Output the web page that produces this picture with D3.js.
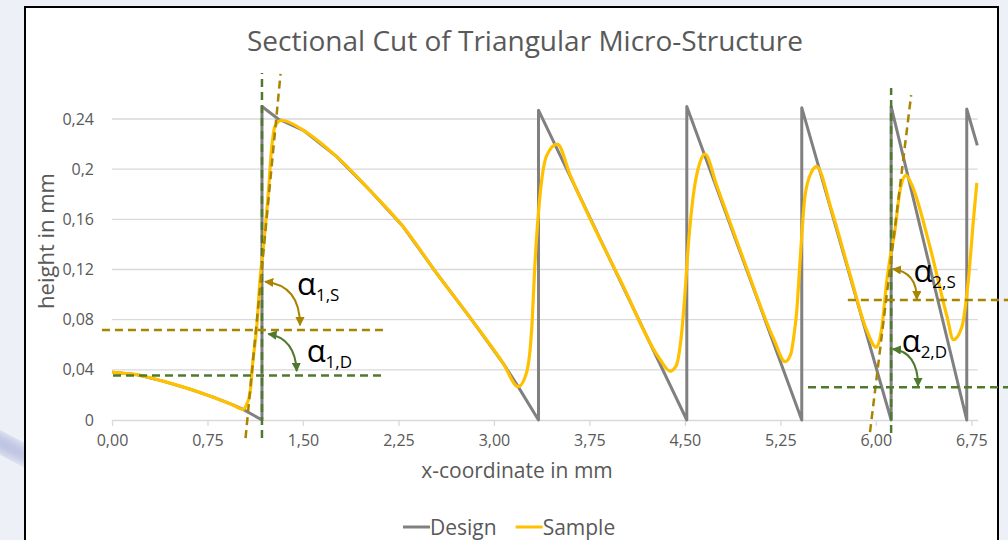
<!DOCTYPE html>
<html>
<head>
<meta charset="utf-8">
<script src="https://cdn.jsdelivr.net/npm/d3@7/dist/d3.min.js"></script>
<style>
  body { margin: 0; overflow: hidden; background: #edf0f7; }
  text { font-family: "Open Sans", sans-serif; }
</style>
</head>
<body>
<div id="chart"></div>
<script>
// data (x in mm, height in mm)
const designX = [0, 0.2, 0.4, 0.6, 0.8, 0.95, 1.03, 1.178, 1.178, 1.306, 1.503, 1.765, 2.027, 2.288, 2.55, 2.81, 3.074, 3.19, 3.35,
                 3.35, 4.515, 4.515, 5.418, 5.418, 6.12, 6.12, 6.714, 6.714, 6.797];
const designY = [0.038, 0.036, 0.031, 0.025, 0.018, 0.012, 0.0085, 0, 0.25, 0.240, 0.231, 0.210, 0.183, 0.154, 0.117, 0.082, 0.045, 0.0266, 0,
                 0.247, 0, 0.25, 0, 0.249, 0, 0.25, 0, 0.248, 0.219];

const sampleX = [0, 0.2, 0.4, 0.6, 0.8, 0.95, 1.03, 1.06, 1.084, 1.108, 1.137, 1.163, 1.189, 1.228, 1.255, 1.28, 1.333,
                 1.503, 1.765, 2.027, 2.288, 2.55, 2.81, 3.074, 3.19,
                 3.257, 3.297, 3.323, 3.362, 3.415, 3.498, 3.6, 4.0, 4.3, 4.383,
                 4.43, 4.47, 4.50, 4.527, 4.566, 4.62, 4.658, 4.75, 4.95, 5.2, 5.287,
                 5.33, 5.36, 5.378, 5.404, 5.444, 5.496, 5.535, 5.65, 5.8, 5.93, 6.003,
                 6.046, 6.085, 6.11, 6.15, 6.19, 6.237, 6.28, 6.42, 6.56, 6.609,
                 6.675, 6.727, 6.766, 6.793];
const sampleY = [0.038, 0.036, 0.031, 0.025, 0.018, 0.012, 0.0085, 0.013, 0.0215, 0.048, 0.074, 0.112, 0.138, 0.181, 0.218, 0.234, 0.239,
                 0.231, 0.210, 0.183, 0.154, 0.117, 0.082, 0.045, 0.0266,
                 0.038, 0.073, 0.126, 0.179, 0.211, 0.220, 0.195, 0.110, 0.049, 0.039,
                 0.043, 0.065, 0.0997, 0.1395, 0.179, 0.206, 0.212, 0.187, 0.131, 0.064, 0.0465,
                 0.052, 0.070, 0.086, 0.126, 0.179, 0.198, 0.202, 0.168, 0.115, 0.071, 0.058,
                 0.073, 0.110, 0.128, 0.1515, 0.183, 0.195, 0.188, 0.140, 0.082, 0.064,
                 0.074, 0.112, 0.159, 0.189];

const seriesNames = ["Design", "Sample"];
const xTicks = [0, 0.75, 1.5, 2.25, 3, 3.75, 4.5, 5.25, 6, 6.75];
const xTickLabels = ["0,00", "0,75", "1,50", "2,25", "3,00", "3,75", "4,50", "5,25", "6,00", "6,75"];
const yTicks = [0, 0.04, 0.08, 0.12, 0.16, 0.2, 0.24];
const yTickLabels = ["0", "0,04", "0,08", "0,12", "0,16", "0,2", "0,24"];

// angle construction lines (data units)
const verticals = [[1.178, -0.0144, 1.178, 0.2767], [6.12, -0.0104, 6.12, 0.2647]];
const slants = [[1.049, -0.0144, 1.324, 0.276], [5.954, -0.0096, 6.277, 0.259]];
const horizS = [[-0.079, 0.0718, 2.129, 0.0718], [5.78, 0.0957, 7.1, 0.0957]];
const horizD = [[0.008, 0.0355, 2.129, 0.0355], [5.467, 0.0261, 7.1, 0.0261]];
const arcsS = [[1.2019, 0.1103, 1.4768, 0.1076, 1.4768, 0.0755], [6.1327, 0.1204, 6.3236, 0.1180, 6.3213, 0.0962]];
const arcsD = [[1.2278, 0.0686, 1.4376, 0.0654, 1.4509, 0.0390], [6.1327, 0.0566, 6.3315, 0.0542, 6.3315, 0.0270]];
const angleLabels = [
  {x: 1.453, y: 0.0997, sub: "1,S"}, {x: 1.529, y: 0.0465, sub: "1,D"},
  {x: 6.295, y: 0.1103, sub: "2,S"}, {x: 6.203, y: 0.0545, sub: "2,D"}
];

const W = 1008, H = 540;
const plotL = 112, plotR = 977.7, plotT = 119, plotB = 420; // plot frame

const svg = d3.select("#chart").append("svg")
  .attr("width", W).attr("height", H);

// backdrop
const defs = svg.append("defs");
defs.append("filter").attr("id", "blur").append("feGaussianBlur").attr("stdDeviation", 6);
svg.append("rect").attr("width", W).attr("height", H).attr("fill", "#edf0f7");
svg.append("ellipse").attr("cx", 5).attr("cy", 445).attr("rx", 45).attr("ry", 9)
  .attr("transform", "rotate(28,5,445)").attr("fill", "#b9c0e0").attr("filter", "url(#blur)");

// chart box
svg.append("rect").attr("x", 25).attr("y", 7).attr("width", 973).attr("height", 560)
  .attr("fill", "#ffffff").attr("stroke", "#000").attr("stroke-width", 2);

const x = d3.scaleLinear().domain([0, 6.8]).range([plotL, plotR]);
const y = d3.scaleLinear().domain([0, 0.24]).range([plotB, plotT]);

// gridlines
svg.append("g").selectAll("line").data(yTicks.slice(1)).join("line")
  .attr("x1", plotL).attr("x2", plotR)
  .attr("y1", d => y(d)).attr("y2", d => y(d))
  .attr("stroke", "#d9d9d9").attr("stroke-width", 1.3);

// x axis
const xAxis = svg.append("g").attr("transform", `translate(0,${y(0)})`)
  .call(d3.axisBottom(x).tickValues(xTicks).tickSize(6).tickSizeOuter(0)
    .tickFormat((d, i) => xTickLabels[i]));
xAxis.select(".domain").attr("stroke", "#d9d9d9").attr("stroke-width", 1.3);
xAxis.selectAll(".tick line").attr("stroke", "#d9d9d9").attr("stroke-width", 1.3);
xAxis.selectAll(".tick text").attr("fill", "#595959").attr("font-size", 16)
  .attr("font-family", "Open Sans").attr("dy", "1.05em");

// y axis (labels only)
const yAxis = svg.append("g").attr("transform", `translate(${plotL - 2},0)`)
  .call(d3.axisLeft(y).tickValues(yTicks).tickSize(0)
    .tickFormat((d, i) => yTickLabels[i]).tickPadding(16));
yAxis.select(".domain").remove();
yAxis.selectAll(".tick text").attr("fill", "#595959").attr("font-size", 16)
  .attr("font-family", "Open Sans");

// titles
svg.append("text").attr("x", 525).attr("y", 51).attr("text-anchor", "middle")
  .attr("font-size", 28).attr("fill", "#595959").text("Sectional Cut of Triangular Micro-Structure");
svg.append("text").attr("x", 517).attr("y", 478).attr("text-anchor", "middle")
  .attr("font-size", 21).attr("fill", "#595959").text("x-coordinate in mm");
svg.append("text").attr("transform", "translate(54,241) rotate(-90)").attr("text-anchor", "middle")
  .attr("font-size", 22).attr("fill", "#595959").text("height in mm");

// series
const design = designX.map((d, i) => [d, designY[i]]);
const sample = sampleX.map((d, i) => [d, sampleY[i]]);

svg.append("path").datum(design)
  .attr("d", d3.line().x(d => x(d[0])).y(d => y(d[1])))
  .attr("fill", "none").attr("stroke", "#808080").attr("stroke-width", 3).attr("stroke-linejoin", "round");
svg.append("path").datum(sample)
  .attr("d", d3.line().x(d => x(d[0])).y(d => y(d[1])).curve(d3.curveMonotoneX))
  .attr("fill", "none").attr("stroke", "#ffc000").attr("stroke-width", 3.2).attr("stroke-linejoin", "round");

// angle annotations
const gold = "#a88400", green = "#4f7a2e";
["gold", "green"].forEach((k, i) => {
  defs.append("marker").attr("id", "arr-" + k).attr("viewBox", "0 0 10 10")
    .attr("refX", 9).attr("refY", 5).attr("markerWidth", 4.6).attr("markerHeight", 4.6)
    .attr("orient", "auto-start-reverse")
    .append("path").attr("d", "M0,0L10,5L0,10Z").attr("fill", i ? green : gold);
});
const seg = (arr, col) => svg.append("g").selectAll("line").data(arr).join("line")
  .attr("x1", d => x(d[0])).attr("y1", d => y(d[1]))
  .attr("x2", d => x(d[2])).attr("y2", d => y(d[3]))
  .attr("stroke", col).attr("stroke-width", 2.5).attr("stroke-dasharray", "8,5");
seg(verticals, green);
seg(slants, gold);
seg(horizS, gold);
seg(horizD, green);

const arc = (arr, col, k) => svg.append("g").selectAll("path").data(arr).join("path")
  .attr("d", d => `M${x(d[0])},${y(d[1])}Q${x(d[2])},${y(d[3])} ${x(d[4])},${y(d[5])}`)
  .attr("fill", "none").attr("stroke", col).attr("stroke-width", 2)
  .attr("marker-start", `url(#arr-${k})`).attr("marker-end", `url(#arr-${k})`);
arc(arcsS, gold, "gold");
arc(arcsD, green, "green");

const lab = svg.append("g").selectAll("text").data(angleLabels).join("text")
  .attr("x", d => x(d.x)).attr("y", d => y(d.y))
  .attr("font-family", "Liberation Sans, Arial, sans-serif").attr("fill", "#000");
lab.append("tspan").attr("font-size", 31).text("α");
lab.append("tspan").attr("font-size", 17).attr("dy", 6).text(d => d.sub);

// legend
const legendColors = ["#808080", "#ffc000"];
const lg = svg.append("g").attr("transform", "translate(403,527)");
let lx = 0;
seriesNames.forEach((name, i) => {
  lg.append("line").attr("x1", lx).attr("x2", lx + 27).attr("y1", 0).attr("y2", 0)
    .attr("stroke", legendColors[i]).attr("stroke-width", 3);
  const t = lg.append("text").attr("x", lx + 27).attr("y", 7.5).attr("font-size", 21)
    .attr("fill", "#595959").text(name);
  lx += 27 + t.node().getComputedTextLength() + 19;
});
</script>
</body>
</html>
